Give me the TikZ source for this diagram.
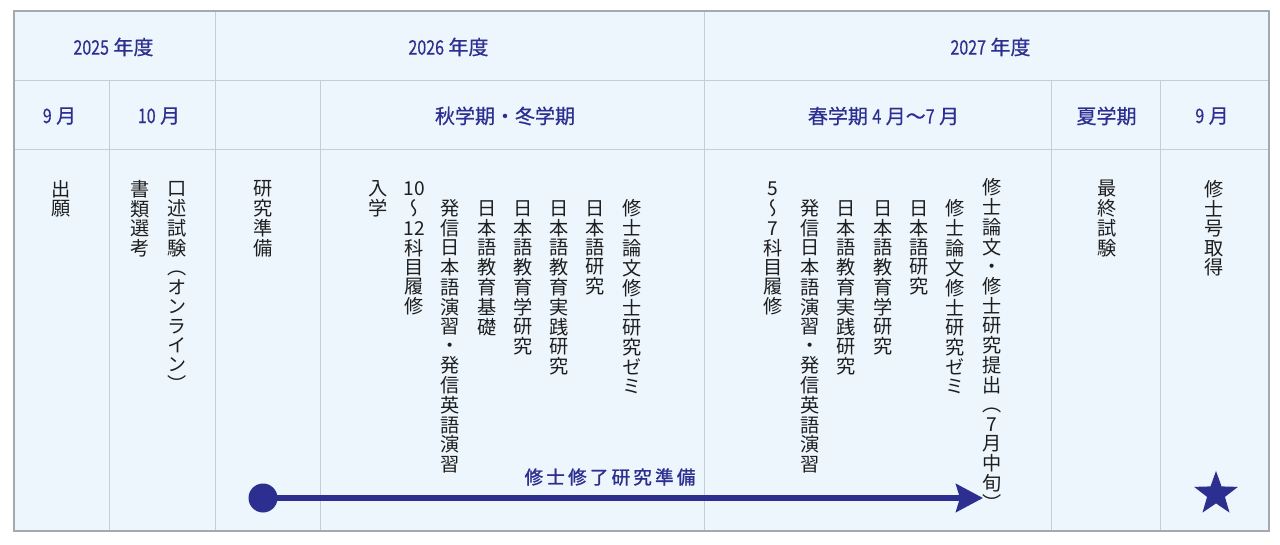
\documentclass[tikz,border=0pt]{standalone}
\usepackage{fontspec}
\usetikzlibrary{arrows.meta,shapes.geometric}
\setmainfont{Noto Sans CJK JP}
\newfontfamily\jpv[RawFeature=+vert]{Noto Sans CJK JP}
\newfontfamily\hdfont[FakeBold=0.6]{Noto Sans CJK JP}
\newfontfamily\lblfont[FakeBold=1.4]{Noto Sans CJK JP}
\definecolor{navy}{RGB}{44,47,143}
\definecolor{ink}{RGB}{30,30,30}
\definecolor{cellbg}{RGB}{237,246,253}
\definecolor{gridc}{RGB}{196,206,216}
\definecolor{framec}{RGB}{165,170,176}
\newcommand\vcell[1]{\hbox to 20pt{\vrule width 0pt height 15.6pt depth 3.8pt\hss#1\hss}}
\ExplSyntaxOn
\NewDocumentCommand\vt{m}{\vbox{\offinterlineskip\tl_map_function:nN{#1}\vcell}}
\ExplSyntaxOff
\newcommand\spc[1]{\makebox[21.75pt]{#1}}
\newcommand\nm[1]{\scalebox{0.8}[1]{#1}}
\tikzset{
  hd/.style={inner sep=0pt, text=navy, font=\hdfont\fontsize{20}{22}\selectfont},
  vtx/.style={anchor=north, inner sep=0pt, text=ink, font=\jpv\fontsize{19.2}{19.4}\selectfont},
  gridline/.style={draw=gridc, line width=1pt},
  frameline/.style={draw=framec, line width=1.2pt},
  lbl/.style={inner sep=0pt, text=navy, font=\lblfont\fontsize{18.5}{20}\selectfont}
}
\begin{document}
\begin{tikzpicture}[x=1pt,y=-1pt]
\useasboundingbox (0,0) rectangle (1280,545);
\fill[white] (0,0) rectangle (1280,545);
\fill[cellbg] (14,11) rectangle (1269,531);
% grid
\draw[gridline] (14,81) -- (1269,81);
\draw[gridline] (14,150) -- (1269,150);
\draw[gridline] (215,11) -- (215,531);
\draw[gridline] (704,11) -- (704,531);
\draw[gridline] (109,81) -- (109,531);
\draw[gridline] (320,81) -- (320,531);
\draw[gridline] (1051,81) -- (1051,531);
\draw[gridline] (1160,81) -- (1160,531);
\draw[frameline] (14,11) rectangle (1269,531);
% header row 1
\node[hd] (y25) at (113.5,47) {\nm{2025} 年度};
\node[hd] (y26) at (448.5,47) {\nm{2026} 年度};
\node[hd] (y27) at (990.5,47) {\nm{2027} 年度};
% header row 2
\node[hd] (m9a) at (59.5,116) {\nm{9} 月};
\node[hd] (m10) at (159,116) {\nm{10} 月};
\node[hd] (aut) at (505,116) {秋学期・冬学期};
\node[hd] (spr) at (883.5,116) {春学期 \nm{4} 月〜\nm{7} 月};
\node[hd] (sum) at (1106.5,116) {夏学期};
\node[hd] (m9b) at (1212,116) {\nm{9} 月};
% body vertical texts
\node[vtx] (b1) at (61,180) {\vt{出願}};
\node[vtx] (b2) at (140,180) {\vt{書類選考}};
\node[vtx] (b3) at (177,180) {\vt{口述試験（オンライン）}};
\node[vtx] (b4) at (263,180) {\vt{研究準備}};
\node[vtx] (a1) at (378,180) {\vt{入学}};
\node[vtx] (a2) at (414,180) {\vt{{10}〜{12}科目履修}};
\node[vtx] (a3) at (450,199.4) {\vt{発信日本語演習・発信英語演習}};
\node[vtx] (a4) at (487,199.4) {\vt{日本語教育基礎}};
\node[vtx] (a5) at (523,199.4) {\vt{日本語教育学研究}};
\node[vtx] (a6) at (559,199.4) {\vt{日本語教育実践研究}};
\node[vtx] (a7) at (595,199.4) {\vt{日本語研究}};
\node[vtx] (a8) at (632,199.4) {\vt{修士論文修士研究ゼミ}};
\node[vtx] (s1) at (773,180) {\vt{{5}〜{7}科目履修}};
\node[vtx] (s2) at (810,199.4) {\vt{発信日本語演習・発信英語演習}};
\node[vtx] (s3) at (846,199.4) {\vt{日本語教育実践研究}};
\node[vtx] (s4) at (883,199.4) {\vt{日本語教育学研究}};
\node[vtx] (s5) at (919,199.4) {\vt{日本語研究}};
\node[vtx] (s6) at (955,199.4) {\vt{修士論文修士研究ゼミ}};
\node[vtx] (s7) at (992,178) {\vt{修士論文・修士研究提出（{7}月中旬）}};
\node[vtx] (f1) at (1107,180) {\vt{最終試験}};
\node[vtx] (g1) at (1214,180) {\vt{修士号取得}};
% research arrow
\node[lbl] (arrlbl) at (610,477) {\spc{修}\spc{士}\spc{修}\spc{了}\spc{研}\spc{究}\spc{準}\spc{備}};
\node[circle, fill=navy, minimum size=29pt, inner sep=0pt] (start) at (263,498) {};
\coordinate (tip) at (983,498);
\draw[navy, line width=5.5pt, -{Stealth[length=27pt,width=28pt,inset=4pt]}] (start.center) -- (tip);
% star
\node[star, star points=5, star point ratio=2.45, minimum size=46pt, inner sep=0pt, fill=navy] (goal) at (1216,494) {};
\end{tikzpicture}
\end{document}
